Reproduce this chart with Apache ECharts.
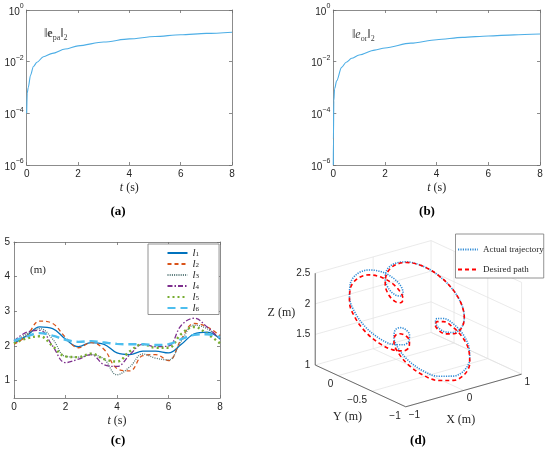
<!DOCTYPE html>
<html>
<head>
<meta charset="utf-8">
<script src="https://cdn.jsdelivr.net/npm/echarts@6/dist/echarts.min.js"></script>
<style>
  html, body { margin: 0; padding: 0; background: #fff; }
  #main { width: 550px; height: 456px; }
</style>
</head>
<body>
<div id="main"></div>
<script>
// (a) position error norm
const errTimeA = [0, 0.02, 0.06, 0.15, 0.26, 0.4, 0.65, 1, 1.5, 2, 3, 4, 5, 6, 7, 8];
const errPosA = [1e-4, 6e-4, 1e-3, 3e-3, 6.5e-3, 9.5e-3, 0.0155, 0.021, 0.031, 0.041, 0.058, 0.076, 0.094, 0.11, 0.124, 0.138];
// (b) orientation error norm
const errTimeB = [0, 0.005, 0.02, 0.05, 0.13, 0.32, 0.5, 0.71, 1, 1.6, 2, 3, 4, 5, 6, 7, 8];
const errOriB = [1e-6, 1e-5, 3e-4, 9e-4, 1.8e-3, 6e-3, 9.5e-3, 0.0135, 0.018, 0.028, 0.034, 0.052, 0.071, 0.087, 0.099, 0.109, 0.117];
const logTicks = [1e-6, 1e-4, 1e-2, 1];

// (c) leg lengths
const legTime = [0, 0.5, 1, 1.5, 2, 2.5, 3, 3.5, 4, 4.5, 5, 5.5, 6, 6.5, 7, 7.5, 8];
const legL1 = [2.08, 2.3, 2.55, 2.5, 2.2, 1.98, 2.1, 2.05, 1.8, 1.75, 1.85, 1.85, 1.8, 2.05, 2.35, 2.4, 2.2];
const legL2 = [2.05, 2.3, 2.72, 2.65, 2.25, 1.95, 2.1, 1.9, 1.35, 1.28, 1.72, 1.75, 1.58, 2.2, 2.65, 2.55, 2.3];
const legL3 = [2.1, 2.35, 2.5, 2.2, 1.7, 1.68, 1.75, 1.62, 1.17, 1.4, 1.77, 1.65, 1.6, 2.15, 2.6, 2.5, 2.2];
const legL4 = [2.15, 2.4, 2.45, 2.0, 1.52, 1.62, 1.75, 1.46, 1.41, 1.75, 2.05, 1.98, 2.0, 2.6, 2.8, 2.55, 2.2];
const legL5 = [2.08, 2.22, 2.28, 2.0, 1.7, 1.68, 1.78, 1.62, 1.55, 1.85, 2.05, 1.95, 1.95, 2.35, 2.55, 2.35, 2.08];
const legL6 = [2.15, 2.28, 2.37, 2.3, 2.18, 2.12, 2.14, 2.1, 2.06, 2.05, 2.05, 2.03, 2.05, 2.2, 2.32, 2.34, 2.25];

// (d) 3D path
const pathX = [0.256, 0.248, 0.311, 0.435, 0.592, 0.740, 0.840, 0.861, 0.792, 0.644, 0.445, 0.236, 0.059, -0.055, -0.092, -0.062,
  0.009, 0.081, 0.117, 0.086, -0.021, -0.194, -0.404, -0.608, -0.767, -0.848, -0.839, -0.750, -0.609, -0.455, -0.329, -0.261,
  -0.264, -0.329, -0.428, -0.522, -0.570, -0.545, -0.436, -0.253, -0.026, 0.204, 0.394, 0.514, 0.549, 0.509, 0.421, 0.323, 0.256];
const pathY = [-0.360, -0.415, -0.465, -0.486, -0.458, -0.375, -0.247, -0.094, 0.054, 0.171, 0.236, 0.241, 0.194, 0.114, 0.029, -0.035,
  -0.058, -0.033, 0.031, 0.116, 0.193, 0.235, 0.224, 0.154, 0.033, -0.118, -0.270, -0.396, -0.474, -0.498, -0.474, -0.422,
  -0.368, -0.338, -0.352, -0.416, -0.521, -0.646, -0.763, -0.846, -0.874, -0.840, -0.752, -0.632, -0.506, -0.402, -0.341, -0.329, -0.360];
const actualZ = [1.717, 1.659, 1.600, 1.570, 1.590, 1.670, 1.803, 1.968, 2.134, 2.270, 2.353, 2.371, 2.331, 2.252, 2.161, 2.090,
  2.061, 2.083, 2.151, 2.245, 2.335, 2.392, 2.394, 2.330, 2.209, 2.050, 1.885, 1.743, 1.648, 1.613, 1.631, 1.683,
  1.742, 1.778, 1.769, 1.706, 1.595, 1.458, 1.323, 1.222, 1.178, 1.200, 1.283, 1.406, 1.541, 1.656, 1.728, 1.747, 1.717];
const desiredZ = [1.667, 1.619, 1.570, 1.550, 1.580, 1.670, 1.803, 1.968, 2.134, 2.270, 2.343, 2.341, 2.271, 2.172, 2.061, 1.980,
  1.951, 1.973, 2.041, 2.145, 2.245, 2.312, 2.314, 2.250, 2.129, 1.970, 1.805, 1.663, 1.558, 1.513, 1.531, 1.583,
  1.642, 1.678, 1.679, 1.626, 1.525, 1.388, 1.253, 1.152, 1.108, 1.130, 1.213, 1.346, 1.481, 1.596, 1.678, 1.697, 1.667];
const xLim3d = [-1, 1], yLim3d = [-1, 0.34], zLim3d = [1, 2.5];
const xTicks3d = [-1, 0, 1], yTicks3d = [-1, -0.5, 0], zTicks3d = [1, 1.5, 2, 2.5];

// camera for panel (d)
const view3d = { az: -38, el: 30 };
const box3d = { cx: 418.4, cy: 323.7, sx: 147, sy: 106 };
const grid3d = { left: 290, top: 228, width: 260, height: 200 };

function project(x, y, z) {
  const xn = (x - xLim3d[0]) / (xLim3d[1] - xLim3d[0]) - 0.5;
  const yn = (y - yLim3d[0]) / (yLim3d[1] - yLim3d[0]) - 0.5;
  const zn = (z - zLim3d[0]) / (zLim3d[1] - zLim3d[0]) - 0.5;
  const a = view3d.az * Math.PI / 180, e = view3d.el * Math.PI / 180;
  const h = xn * Math.cos(a) + yn * Math.sin(a);
  const v = zn * Math.cos(e) + Math.sin(e) * (-xn * Math.sin(a) + yn * Math.cos(a));
  return [h, v];
}

const SANS = '"Liberation Sans", Arial, sans-serif';
const SERIF = '"Liberation Serif", "DejaVu Serif", serif';
const INK = '#262626';
const FRAME = '#6e6e6e';

function fmtNum(v) { return v < 0 ? '\u2212' + String(-v) : String(v); }
function fmtPow(v) {
  const p = Math.round(Math.log10(v));
  return '{b|10}{e|' + fmtNum(p) + '}';
}

function renderFrame(params, api) {
  const kids = [];
  const px = (x, y, z) => api.coord(project(x, y, z));
  const seg = (p, q, stroke, w) => kids.push({
    type: 'line', silent: true,
    shape: { x1: p[0], y1: p[1], x2: q[0], y2: q[1] },
    style: { stroke: stroke, lineWidth: w }
  });
  const txt = (x, y, s, align, va, font) => kids.push({
    type: 'text', x: x, y: y, silent: true,
    style: { text: s, fill: INK, font: font, align: align, verticalAlign: va }
  });
  const [x0, x1] = xLim3d, [y0, y1] = yLim3d, [z0, z1] = zLim3d;
  const gc = '#e1e1e1';
  xTicks3d.forEach(t => { seg(px(t, y0, z0), px(t, y1, z0), gc, 0.7); seg(px(t, y1, z0), px(t, y1, z1), gc, 0.7); });
  yTicks3d.forEach(t => { seg(px(x0, t, z0), px(x1, t, z0), gc, 0.7); seg(px(x1, t, z0), px(x1, t, z1), gc, 0.7); });
  zTicks3d.forEach(t => { seg(px(x0, y1, t), px(x1, y1, t), gc, 0.7); seg(px(x1, y0, t), px(x1, y1, t), gc, 0.7); });

  const ac = '#4a4a4a';
  seg(px(x0, y0, z0), px(x1, y0, z0), ac, 0.8);
  seg(px(x0, y0, z0), px(x0, y1, z0), ac, 0.8);
  seg(px(x0, y1, z0), px(x0, y1, z1), ac, 0.8);

  const tf = '10px ' + SANS;
  zTicks3d.forEach(t => { const p = px(x0, y1, t); txt(p[0] - 5, p[1], fmtNum(t), 'right', 'middle', tf); });
  yTicks3d.forEach(t => { const p = px(x0, t, z0); txt(p[0] - 5, p[1] + 4, fmtNum(t), 'right', 'top', tf); });
  xTicks3d.forEach(t => { const p = px(t, y0, z0); txt(p[0] + 3, p[1] + 3, fmtNum(t), 'left', 'top', tf); });

  const nf = '12px ' + SERIF;
  let m = px(x0, y1, (z0 + z1) / 2);
  txt(m[0] - 20, m[1] - 6, 'Z (m)', 'right', 'middle', nf);
  m = px(x0, (y0 + y1) / 2, z0);
  txt(m[0] - 13, m[1] + 31, 'Y (m)', 'center', 'middle', nf);
  m = px((x0 + x1) / 2, y0, z0);
  txt(m[0] - 3, m[1] + 29, 'X (m)', 'center', 'middle', nf);
  return { type: 'group', children: kids };
}

const tickLabel = { fontFamily: SANS, fontSize: 10, color: INK };
const powRich = {
  b: { fontFamily: SANS, fontSize: 10, color: INK, lineHeight: 14, verticalAlign: 'bottom' },
  e: { fontFamily: SANS, fontSize: 7, color: INK, lineHeight: 8, verticalAlign: 'top' }
};
const tName = '{i|t} (s)';
const tNameStyle = { fontFamily: SERIF, fontSize: 12, color: INK, rich: { i: { fontFamily: SERIF, fontStyle: 'italic', fontSize: 12, color: INK } } };

function frameAxis(extra) {
  return Object.assign({
    axisLine: { show: true, onZero: false, lineStyle: { color: FRAME, width: 0.8 } },
    axisTick: { show: true, inside: true, length: 3, lineStyle: { color: FRAME, width: 0.8 } },
    splitLine: { show: false },
    axisLabel: { show: false }
  }, extra);
}

function timeAxes(gi) {
  return [
    frameAxis({ gridIndex: gi, type: 'value', min: 0, max: 8, interval: 2, position: 'bottom',
      axisLabel: Object.assign({ show: true, margin: 4 }, tickLabel),
      name: tName, nameLocation: 'middle', nameGap: 17, nameTextStyle: tNameStyle }),
    frameAxis({ gridIndex: gi, type: 'value', min: 0, max: 8, interval: 2, position: 'top' })
  ];
}
function logAxes(gi) {
  return [
    frameAxis({ gridIndex: gi, type: 'log', logBase: 10, min: 1e-6, max: 1, position: 'left',
      axisTick: { show: true, inside: true, length: 3, customValues: logTicks, lineStyle: { color: FRAME, width: 0.8 } },
      axisLabel: { show: true, margin: 3, customValues: logTicks, formatter: fmtPow, rich: powRich } }),
    frameAxis({ gridIndex: gi, type: 'log', logBase: 10, min: 1e-6, max: 1, position: 'right',
      axisTick: { show: true, inside: true, length: 3, customValues: logTicks, lineStyle: { color: FRAME, width: 0.8 } } })
  ];
}
const legTicks = [1, 2, 3, 4, 5];

const normRich = (mid) => ({
  n: { fontFamily: SERIF, fontSize: 12, fill: '#444', lineHeight: 14, verticalAlign: 'top' },
  m: Object.assign({ fontFamily: SERIF, fontSize: 12, fill: '#444', lineHeight: 14, verticalAlign: 'top' }, mid),
  sub: { fontFamily: SERIF, fontSize: 8, fill: '#444', lineHeight: 9, verticalAlign: 'bottom' }
});

const option = {
  animation: false,
  backgroundColor: '#fff',
  grid: [
    { left: 26.7, top: 10, width: 205.3, height: 155, outerBoundsMode: 'none' },
    { left: 333.3, top: 10, width: 206.7, height: 155, outerBoundsMode: 'none' },
    { left: 14, top: 242, width: 206, height: 156, outerBoundsMode: 'none' },
    Object.assign({ outerBoundsMode: 'none' }, grid3d)
  ],
  xAxis: [].concat(timeAxes(0), timeAxes(1), timeAxes(2), [
    { gridIndex: 3, type: 'value', show: false,
      min: (grid3d.left - box3d.cx) / box3d.sx, max: (grid3d.left + grid3d.width - box3d.cx) / box3d.sx }
  ]),
  yAxis: [].concat(logAxes(0), logAxes(1), [
    frameAxis({ gridIndex: 2, type: 'value', min: 0.5, max: 5, position: 'left',
      axisTick: { show: true, inside: true, length: 3, customValues: legTicks, lineStyle: { color: FRAME, width: 0.8 } },
      axisLabel: Object.assign({ show: true, margin: 4, customValues: legTicks }, tickLabel) }),
    frameAxis({ gridIndex: 2, type: 'value', min: 0.5, max: 5, position: 'right',
      axisTick: { show: true, inside: true, length: 3, customValues: legTicks, lineStyle: { color: FRAME, width: 0.8 } } }),
    { gridIndex: 3, type: 'value', show: false,
      min: -(grid3d.top + grid3d.height - box3d.cy) / box3d.sy, max: (box3d.cy - grid3d.top) / box3d.sy }
  ]),
  legend: [
    {
      data: ['l1', 'l2', 'l3', 'l4', 'l5', 'l6'], orient: 'vertical', left: 148, top: 244,
      itemWidth: 20, itemHeight: 2, itemGap: 0, padding: [3.5, 20, 1, 18.5],
      itemStyle: { opacity: 0 },
      backgroundColor: '#fff', borderColor: '#777', borderWidth: 0.8, borderRadius: 0,
      selectedMode: false,
      formatter: n => '{i|l}{s|' + n.slice(1) + '}',
      textStyle: { color: INK, fontSize: 10, lineHeight: 9,
        rich: {
          i: { fontFamily: SERIF, fontStyle: 'italic', fontSize: 11, color: INK, lineHeight: 9, verticalAlign: 'middle' },
          s: { fontFamily: SERIF, fontSize: 7, color: INK, lineHeight: 5, verticalAlign: 'bottom' }
        } }
    },
    {
      data: ['Actual trajectory', 'Desired path'], orient: 'vertical', left: 455.5, top: 234,
      itemWidth: 20, itemHeight: 2, itemGap: 8, padding: [9.5, 0, 2.5, 1.5],
      itemStyle: { opacity: 0 },
      backgroundColor: '#fff', borderColor: '#777', borderWidth: 0.8, borderRadius: 0,
      selectedMode: false,
      textStyle: { fontFamily: SERIF, fontSize: 9, lineHeight: 12, color: INK }
    }
  ],
  graphic: [
    { type: 'text', x: 118, y: 212, style: { text: '(a)', font: 'bold 13px ' + SERIF, fill: '#000', align: 'center', verticalAlign: 'middle' } },
    { type: 'text', x: 427, y: 212, style: { text: '(b)', font: 'bold 13px ' + SERIF, fill: '#000', align: 'center', verticalAlign: 'middle' } },
    { type: 'text', x: 118, y: 441, style: { text: '(c)', font: 'bold 13px ' + SERIF, fill: '#000', align: 'center', verticalAlign: 'middle' } },
    { type: 'text', x: 418, y: 441, style: { text: '(d)', font: 'bold 13px ' + SERIF, fill: '#000', align: 'center', verticalAlign: 'middle' } },
    { type: 'text', x: 38, y: 270, style: { text: '(m)', font: '11px ' + SERIF, fill: INK, align: 'center', verticalAlign: 'middle' } },
    { type: 'text', x: 44, y: 35, style: {
      text: '{n|\u2016}{m|e}{sub|pa}{n|\u2016}{sub|2}', align: 'left', verticalAlign: 'middle',
      rich: normRich({ fontWeight: 'bold' }) } },
    { type: 'text', x: 352, y: 36, style: {
      text: '{n|\u2016}{m|e}{sub|or}{n|\u2016}{sub|2}', align: 'left', verticalAlign: 'middle',
      rich: normRich({ fontStyle: 'italic' }) } }
  ],
  series: [
    { type: 'line', xAxisIndex: 0, yAxisIndex: 0, symbol: 'none', smooth: 0.3, smoothMonotone: 'x',
      lineStyle: { color: '#4DAEE6', width: 1.1 }, data: errTimeA.map((t, i) => [t, errPosA[i]]) },
    { type: 'line', xAxisIndex: 2, yAxisIndex: 2, symbol: 'none', smooth: 0.3, smoothMonotone: 'x',
      lineStyle: { color: '#4DAEE6', width: 1.1 }, data: errTimeB.map((t, i) => [t, errOriB[i]]) },

    { name: 'l1', type: 'line', xAxisIndex: 4, yAxisIndex: 4, symbol: 'none', smooth: 0.4, color: '#0072BD',
      lineStyle: { color: '#0072BD', width: 1.3 }, data: legTime.map((t, i) => [t, legL1[i]]) },
    { name: 'l2', type: 'line', xAxisIndex: 4, yAxisIndex: 4, symbol: 'none', smooth: 0.4, color: '#D95319',
      lineStyle: { color: '#D95319', width: 1.3, type: [4, 3] }, data: legTime.map((t, i) => [t, legL2[i]]) },
    { name: 'l3', type: 'line', xAxisIndex: 4, yAxisIndex: 4, symbol: 'none', smooth: 0.4, color: '#557777',
      lineStyle: { color: '#557777', width: 1.3, type: [1, 1.2] }, data: legTime.map((t, i) => [t, legL3[i]]) },
    { name: 'l4', type: 'line', xAxisIndex: 4, yAxisIndex: 4, symbol: 'none', smooth: 0.4, color: '#7E2F8E',
      lineStyle: { color: '#7E2F8E', width: 1.3, type: [5, 2, 1.5, 2] }, data: legTime.map((t, i) => [t, legL4[i]]) },
    { name: 'l5', type: 'line', xAxisIndex: 4, yAxisIndex: 4, symbol: 'none', smooth: 0.4, color: '#77AC30',
      lineStyle: { color: '#77AC30', width: 2.4, type: [2, 3] }, data: legTime.map((t, i) => [t, legL5[i]]) },
    { name: 'l6', type: 'line', xAxisIndex: 4, yAxisIndex: 4, symbol: 'none', smooth: 0.4, color: '#4DBEEE',
      lineStyle: { color: '#4DBEEE', width: 2.4, type: [8, 5] }, data: legTime.map((t, i) => [t, legL6[i]]) },

    { type: 'custom', xAxisIndex: 6, yAxisIndex: 6, coordinateSystem: 'cartesian2d', clip: false, silent: true, z: 1,
      renderItem: renderFrame, data: [[0, 0]] },
    { name: 'Actual trajectory', type: 'line', xAxisIndex: 6, yAxisIndex: 6, symbol: 'none', smooth: 0.35, z: 3, color: '#2F8BD6',
      lineStyle: { color: '#2F8BD6', width: 1.6, type: [1.2, 1.2] },
      data: pathX.map((x, i) => project(x, pathY[i], actualZ[i])) },
    { name: 'Desired path', type: 'line', xAxisIndex: 6, yAxisIndex: 6, symbol: 'none', smooth: 0.35, z: 4, color: '#FF0000',
      lineStyle: { color: '#FF0000', width: 1.6, type: [4, 3] },
      data: pathX.map((x, i) => project(x, pathY[i], desiredZ[i])) }
  ]
};

const chart = echarts.init(document.getElementById('main'));
chart.setOption(option);
</script>
</body>
</html>
